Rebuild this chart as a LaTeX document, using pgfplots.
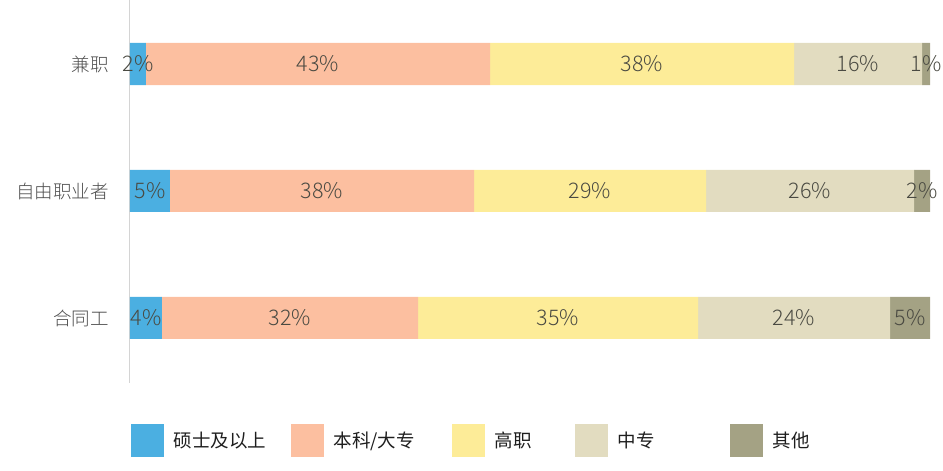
\documentclass[border=0pt]{standalone}
\usepackage{fontspec}
\setmainfont{Noto Sans CJK SC}
\newfontfamily\lightfont{Noto Sans CJK SC}[UprightFont=* Light]
\usepackage{pgfplots}
\pgfplotsset{compat=1.18}

\definecolor{cMaster}{HTML}{4BAFE1}
\definecolor{cBachelor}{HTML}{FCBFA0}
\definecolor{cHigher}{HTML}{FDEC98}
\definecolor{cSecondary}{HTML}{E2DCC0}
\definecolor{cOther}{HTML}{A4A284}
\definecolor{axisgray}{HTML}{D4D4D4}
\definecolor{catgray}{HTML}{4E4E4E}
\definecolor{labgray}{HTML}{4A4A42}
\definecolor{legblack}{HTML}{1E1E1E}

\begin{document}
\begin{tikzpicture}
\begin{axis}[
    at={(130pt,88pt)}, anchor=south west,
    scale only axis, width=800pt, height=383pt,
    xbar stacked, bar width=42pt,
    xmin=0, xmax=100, ymin=-0.512, ymax=2.504,
    axis x line=none, axis y line=left,
    y axis line style={-, draw=axisgray, line width=1pt},
    ytick={0,1,2}, yticklabels={合同工,自由职业者,兼职},
    major tick length=0pt,
    yticklabel style={font=\lightfont\fontsize{18.5}{20}\selectfont, text=catgray, inner sep=0pt, xshift=-21pt},
    point meta=explicit symbolic,
    nodes near coords={\pgfplotspointmeta\%},
    % stacked bars put the node in the middle of each segment already
    every node near coord/.append style={anchor=center, inner sep=0pt,
        font=\lightfont\fontsize{21.5}{24}\selectfont, text=labgray},
    legend columns=5,
    legend style={at={(0.00125,-0.150)}, anchor=west, draw=none, fill=none,
        inner sep=0pt, font=\fontsize{18.5}{20}\selectfont, text=legblack,
        nodes={inner sep=0pt},
        /tikz/every odd column/.append style={column sep=9.5pt},
        /tikz/every even column/.append style={column sep=0pt}},
    legend image code/.code={\fill[#1] (0pt,-16.5pt) rectangle (33pt,16.5pt);},
]
% y: 0 = 合同工, 1 = 自由职业者, 2 = 兼职
\addplot[fill=cMaster, draw=none] coordinates {(4,0) [4] (5,1) [5] (2,2) [2]};
\addlegendentry{\makebox[117.5pt][l]{硕士及以上}}
\addplot[fill=cBachelor, draw=none] coordinates {(32,0) [32] (38,1) [38] (43,2) [43]};
\addlegendentry{\makebox[118.5pt][l]{本科/大专}}
\addplot[fill=cHigher, draw=none] coordinates {(35,0) [35] (29,1) [29] (38,2) [38]};
\addlegendentry{\makebox[80.5pt][l]{高职}}
\addplot[fill=cSecondary, draw=none] coordinates {(24,0) [24] (26,1) [26] (16,2) [16]};
\addlegendentry{\makebox[112.5pt][l]{中专}}
\addplot[fill=cOther, draw=none] coordinates {(5,0) [5] (2,1) [2] (1,2) [1]};
\addlegendentry{其他}
\end{axis}
\pgfresetboundingbox
\useasboundingbox (0,0) rectangle (943pt,471pt);
\end{tikzpicture}
\end{document}
